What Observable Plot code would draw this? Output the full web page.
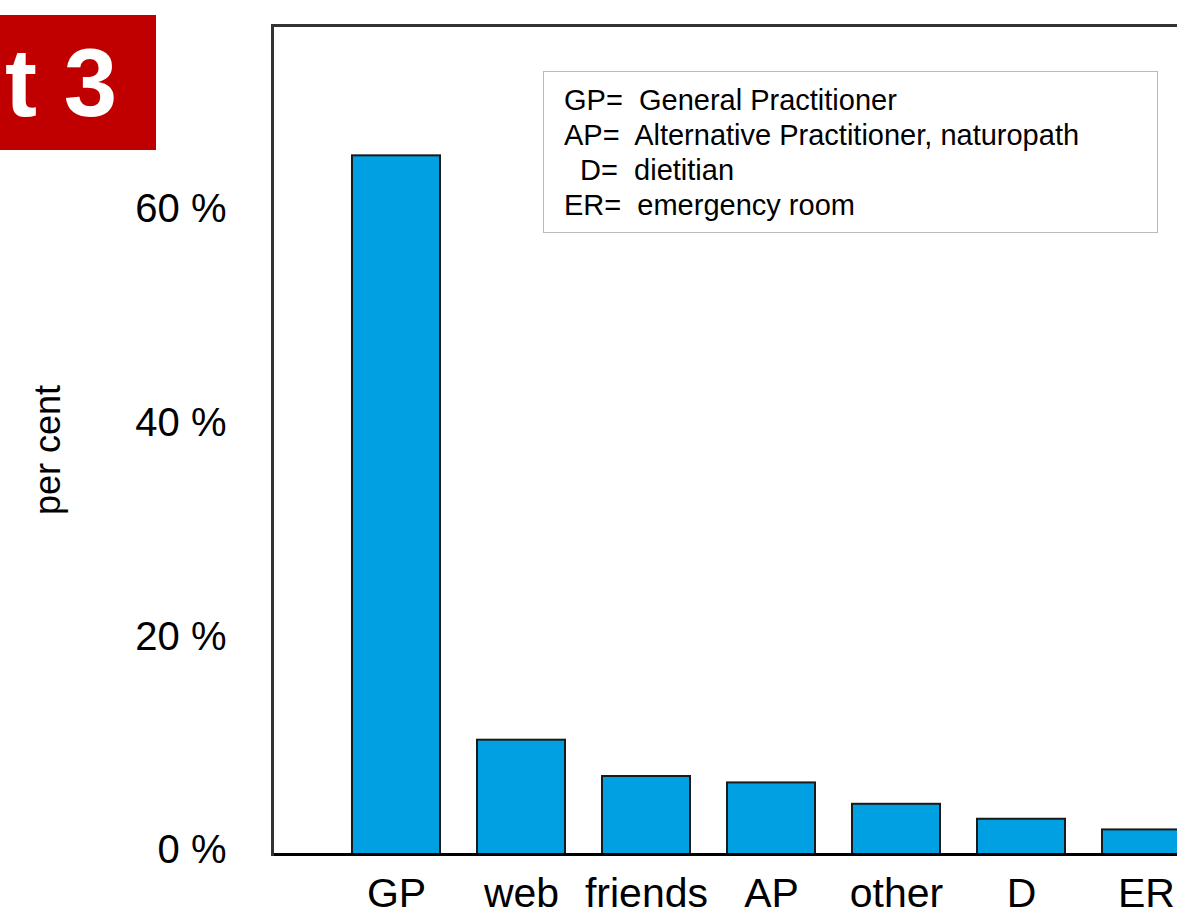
<!DOCTYPE html>
<html>
<head>
<meta charset="utf-8">
<script src="https://cdn.jsdelivr.net/npm/d3@7"></script>
<script src="https://cdn.jsdelivr.net/npm/@observablehq/plot@0.6"></script>
<style>
  html, body { margin: 0; padding: 0; background: #fff; overflow: hidden; }
  #wrap { position: relative; width: 1177px; height: 918px; font-family: "Liberation Sans", Arial, sans-serif; }
  #chart { position: absolute; left: 0; top: 0; }
  #badge { position: absolute; left: 0; top: 15px; width: 156px; height: 135px; background: #c00000; color: #fff;
           font-weight: bold; font-size: 96px; line-height: 135px; white-space: nowrap; overflow: hidden; text-indent: 5px; }
  #legend { position: absolute; left: 543px; top: 71px; width: 615px; height: 162px; border: 1px solid #bbb;
            font-size: 29px; line-height: 35px; box-sizing: border-box; padding: 11px 0 0 20px; color: #000; background: #fff; }
  #legend div { white-space: pre; }
</style>
</head>
<body>
<div id="wrap">
  <div id="chart"></div>
  <div id="badge">t 3</div>
  <div id="legend">
    <div>GP=  General Practitioner</div>
    <div>AP=  Alternative Practitioner, naturopath</div>
    <div>  D=  dietitian</div>
    <div>ER=  emergency room</div>
  </div>
</div>
<script>
const categories = ["GP", "web", "friends", "AP", "other", "D", "ER"];
const values = [65.4, 10.7, 7.3, 6.7, 4.7, 3.3, 2.3];
const yTicks = [0, 20, 40, 60];
const yMax = 77.6;
const yLabel = "per cent";

const data = categories.map((c, i) => ({cat: c, value: values[i]}));

const chart = Plot.plot({
  width: 1177,
  height: 918,
  marginTop: 25,
  marginBottom: 64,
  marginLeft: 272,
  marginRight: 0,
  style: {fontFamily: "'Liberation Sans', Arial, sans-serif", fontSize: "40px", color: "#000", background: "transparent"},
  x: {domain: categories, range: [313, 1229], padding: 0.3, label: null},
  y: {domain: [0, yMax], label: null},
  marks: [
    Plot.barY(data, {x: "cat", y: "value", fill: "#00a0e3", stroke: "#1a1a1a", strokeWidth: 2, clip: true}),
    Plot.ruleY([0], {stroke: "#000", strokeWidth: 3}),
    Plot.ruleY([yMax], {stroke: "#333", strokeWidth: 3}),
    Plot.frame({anchor: "left", stroke: "#333", strokeWidth: 3}),
    Plot.axisX({tickSize: 0, tickPadding: 23, label: null, fontSize: 41}),
    Plot.axisY({ticks: yTicks, tickFormat: d => d + " %", tickSize: 0, tickPadding: 46, dy: -4, label: null}),
    Plot.text([yLabel], {frameAnchor: "left", textAnchor: "middle", dx: -224, dy: 10, rotate: -90, fontSize: 36})
  ]
});
document.getElementById("chart").appendChild(chart);
</script>
</body>
</html>
